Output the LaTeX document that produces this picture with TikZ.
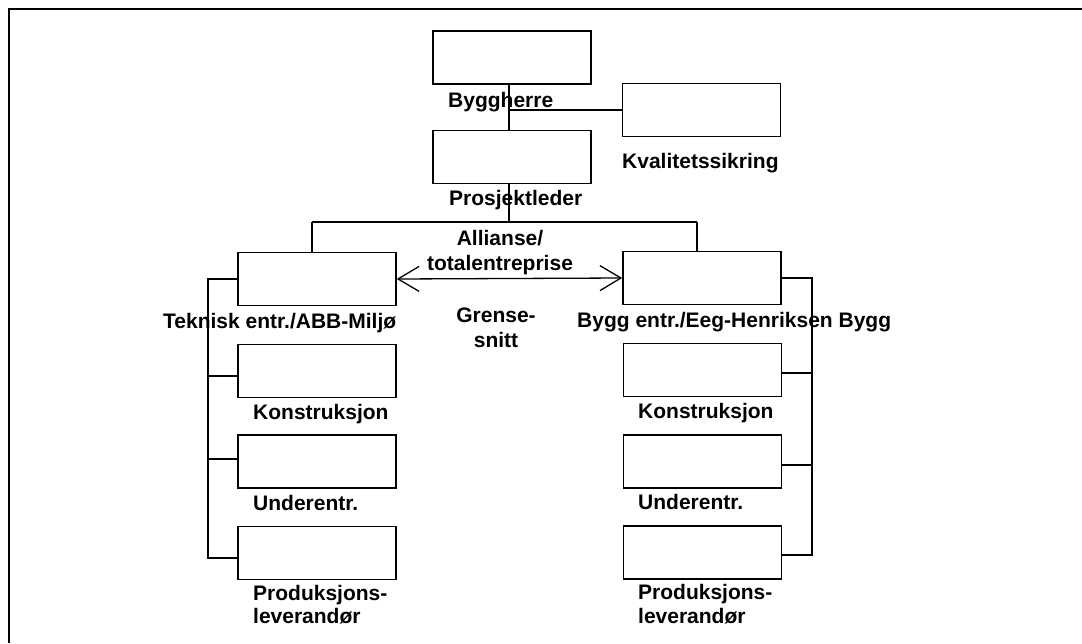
\documentclass[tikz,border=0pt]{standalone}
\usepackage{fontspec}
\setmainfont{Liberation Sans}
\usetikzlibrary{arrows.meta}
\begin{document}
\begin{tikzpicture}[x=1pt,y=-1pt,
  box/.style={draw,line width=1.6pt,minimum width=158pt,minimum height=53pt,inner sep=0pt},
  lbl/.style={anchor=base west,inner sep=0pt,font=\fontsize{21}{24}\selectfont\bfseries},
  clbl/.style={anchor=base,inner sep=0pt,font=\fontsize{21}{25}\selectfont\bfseries,align=center},
  conn/.style={line width=1.3pt}]
\useasboundingbox (0,0) rectangle (1082,643);
% frame
\draw[line width=2pt] (9,643) -- (9,9) -- (1082,9);
% boxes
\node[box] (bh) at (512,57.5) {};
\node[box] (kv) at (701.5,110) {};
\node[box] (pl) at (512,157) {};
\node[box] (te) at (317,279) {};
\node[box] (be) at (702,278) {};
\node[box] (tk) at (317,371) {};
\node[box] (tu) at (317,461.5) {};
\node[box] (tp) at (317,553) {};
\node[box] (bk) at (702.5,370) {};
\node[box] (bu) at (702.5,461.5) {};
\node[box] (bp) at (702.5,552.5) {};
% labels
\node[lbl] (lbh) at (448,107) {Byggherre};
\node[lbl] (lkv) at (622,168) {Kvalitetssikring};
\node[lbl] (lpl) at (449,205) {Prosjektleder};
\node[lbl] (lte) at (163,328) {Teknisk entr./ABB-Miljø};
\node[lbl] (lbe) at (577,327) {Bygg entr./Eeg-Henriksen Bygg};
\node[lbl] (ltk) at (253,419) {Konstruksjon};
\node[lbl] (ltu) at (253,510) {Underentr.};
\node[lbl,align=left,font=\fontsize{21}{23}\selectfont\bfseries] (ltp) at (253,623) {Produksjons-\\leverandør};
\node[lbl] (lbk) at (638,418) {Konstruksjon};
\node[lbl] (lbu) at (638,509) {Underentr.};
\node[lbl,align=left,font=\fontsize{21}{24}\selectfont\bfseries] (lbp) at (638,623) {Produksjons-\\leverandør};
\node[clbl] (all) at (500,270) {Allianse/\\totalentreprise};
\node[clbl] (gr) at (496,347) {Grense-\\snitt};
% coordinates
\coordinate (top) at (509,222);
\coordinate (tl) at (312,222);
\coordinate (tr) at (697,222);
\coordinate (lk) at (208,376);
\coordinate (lu) at (208,459);
\coordinate (lp) at (208,558);
\coordinate (rk) at (812,373);
\coordinate (ru) at (812,465);
\coordinate (rp) at (812,555);
% connectors
\draw[conn] (bh.south -| top) -- (pl.north -| top);
\draw[conn] (kv.west) -- (kv.west -| top);
\draw[conn] (pl.south -| top) -- (top);
\draw[conn] (tl) -- (tr);
\draw[conn] (tl) -- (te.north -| tl);
\draw[conn] (tr) -- (be.north -| tr);
\draw[line width=1.3pt,{Straight Barb[length=21pt,width=25pt]}-{Straight Barb[length=21pt,width=25pt]}] (te.east) -- (be.west);
% left bus
\draw[conn] (te.west) -- (te.west -| lp) -- (lp) -- (lp -| tp.west);
\draw[conn] (lk) -- (lk -| tk.west);
\draw[conn] (lu) -- (lu -| tu.west);
% right bus
\draw[conn] (be.east) -- (be.east -| rp) -- (rp) -- (rp -| bp.east);
\draw[conn] (rk) -- (rk -| bk.east);
\draw[conn] (ru) -- (ru -| bu.east);
\end{tikzpicture}
\end{document}
